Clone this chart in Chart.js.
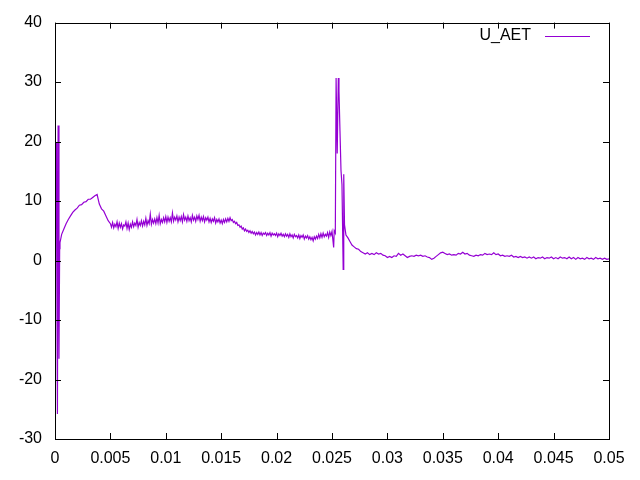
<!DOCTYPE html>
<html>
<head>
<meta charset="utf-8">
<script src="https://cdn.jsdelivr.net/npm/chart.js@4.4.1/dist/chart.umd.min.js"></script>
<style>
  html, body { margin: 0; padding: 0; background: #fff; }
  #wrap { width: 640px; height: 480px; }
</style>
</head>
<body>
<div id="wrap"><canvas id="chart" width="640" height="480"></canvas></div>
<script>
// U_AET trace (time in s, voltage)
const seriesLabel = "U_AET";

// start-up transient
const startT = [0, 0.00012, 0.00016, 0.00022, 0.00028, 0.00036, 0.00042, 0.00045];
const startU = [-1.0, 19.8, -1.0, -25.8, 22.7, -16.5, 2.0, 3.0];

// rise to the first hump
const rampT = [
    0.0006, 0.0008, 0.0010, 0.0012, 0.0014, 0.0016, 0.0018, 0.0020, 0.0022, 0.0024,
    0.0026, 0.0028, 0.0030, 0.0032, 0.0034, 0.0036, 0.0038, 0.0040, 0.0042, 0.0044,
    0.0046, 0.0048
];
const rampU = [
    4.4, 5.3, 6.2, 6.9, 7.5, 8.1, 8.5, 8.8, 9.3, 9.4,
    9.8, 9.9, 10.3, 10.3, 10.6, 10.9, 11.1, 9.5, 8.7, 8.3,
    7.5, 6.7
];

// noisy plateau and slow decay up to the switching event
const plateauT = [
    0.0050, 0.0051, 0.0052, 0.0053, 0.0054, 0.0055, 0.0056, 0.0057, 0.0058, 0.0059,
    0.0060, 0.0061, 0.0062, 0.0063, 0.0064, 0.0065, 0.0066, 0.0067, 0.0068, 0.0069,
    0.0070, 0.0071, 0.0072, 0.0073, 0.0074, 0.0075, 0.0076, 0.0077, 0.0078, 0.0079,
    0.0080, 0.0081, 0.0082, 0.0083, 0.0084, 0.0085, 0.0086, 0.0087, 0.0088, 0.0089,
    0.0090, 0.0091, 0.0092, 0.0093, 0.0094, 0.0095, 0.0096, 0.0097, 0.0098, 0.0099,
    0.0100, 0.0101, 0.0102, 0.0103, 0.0104, 0.0105, 0.0106, 0.0107, 0.0108, 0.0109,
    0.0110, 0.0111, 0.0112, 0.0113, 0.0114, 0.0115, 0.0116, 0.0117, 0.0118, 0.0119,
    0.0120, 0.0121, 0.0122, 0.0123, 0.0124, 0.0125, 0.0126, 0.0127, 0.0128, 0.0129,
    0.0130, 0.0131, 0.0132, 0.0133, 0.0134, 0.0135, 0.0136, 0.0137, 0.0138, 0.0139,
    0.0140, 0.0141, 0.0142, 0.0143, 0.0144, 0.0145, 0.0146, 0.0147, 0.0148, 0.0149,
    0.0150, 0.0151, 0.0152, 0.0153, 0.0154, 0.0155, 0.0156, 0.0157, 0.0158, 0.0159,
    0.0160, 0.0161, 0.0162, 0.0163, 0.0164, 0.0165, 0.0166, 0.0167, 0.0168, 0.0169,
    0.0170, 0.0171, 0.0172, 0.0173, 0.0174, 0.0175, 0.0176, 0.0177, 0.0178, 0.0179,
    0.0180, 0.0181, 0.0182, 0.0183, 0.0184, 0.0185, 0.0186, 0.0187, 0.0188, 0.0189,
    0.0190, 0.0191, 0.0192, 0.0193, 0.0194, 0.0195, 0.0196, 0.0197, 0.0198, 0.0199,
    0.0200, 0.0201, 0.0202, 0.0203, 0.0204, 0.0205, 0.0206, 0.0207, 0.0208, 0.0209,
    0.0210, 0.0211, 0.0212, 0.0213, 0.0214, 0.0215, 0.0216, 0.0217, 0.0218, 0.0219,
    0.0220, 0.0221, 0.0222, 0.0223, 0.0224, 0.0225, 0.0226, 0.0227, 0.0228, 0.0229,
    0.0230, 0.0231, 0.0232, 0.0233, 0.0234, 0.0235, 0.0236, 0.0237, 0.0238, 0.0239,
    0.0240, 0.0241, 0.0242, 0.0243, 0.0244, 0.0245, 0.0246, 0.0247, 0.0248, 0.0249,
    0.0250
];
const plateauU = [
    6.2, 5.6, 6.4, 5.5, 6.1, 5.7, 6.5, 5.4, 6.3, 5.6,
    6.2, 5.3, 6.0, 5.8, 6.5, 5.4, 6.3, 5.2, 6.1, 5.6,
    6.5, 5.7, 6.3, 5.9, 6.9, 5.6, 6.4, 5.9, 6.7, 5.8,
    6.6, 6.0, 7.1, 5.9, 6.7, 6.2, 7.8, 6.1, 6.9, 6.3,
    7.0, 6.2, 7.2, 6.3, 7.6, 6.2, 6.9, 6.4, 7.2, 6.5,
    7.4, 6.4, 7.3, 6.6, 7.2, 6.5, 8.0, 6.6, 7.3, 6.8,
    7.5, 6.5, 7.3, 6.7, 7.4, 6.5, 7.7, 6.8, 7.3, 6.6,
    7.5, 6.7, 7.2, 6.5, 7.6, 6.8, 7.3, 6.6, 7.5, 6.9,
    7.6, 6.6, 7.3, 6.7, 7.4, 6.5, 7.2, 6.8, 7.3, 6.5,
    7.1, 6.4, 7.0, 6.6, 7.2, 6.3, 6.9, 6.5, 7.0, 6.3,
    6.8, 6.2, 6.9, 6.4, 7.0, 6.5, 7.1, 6.6, 7.2, 6.7,
    6.9, 6.4, 6.6, 6.2, 6.4, 5.9, 6.0, 5.6, 5.8, 5.3,
    5.5, 5.0, 5.3, 4.9, 5.1, 4.7, 5.0, 4.6, 4.9, 4.5,
    4.8, 4.3, 4.7, 4.4, 4.8, 4.3, 4.7, 4.2, 4.6, 4.4,
    4.7, 4.2, 4.6, 4.3, 4.7, 4.1, 4.6, 4.3, 4.5, 4.2,
    4.6, 4.0, 4.5, 4.2, 4.6, 4.1, 4.4, 4.0, 4.5, 4.1,
    4.4, 3.9, 4.5, 4.0, 4.3, 3.8, 4.4, 4.0, 4.2, 3.8,
    4.3, 3.7, 4.2, 3.9, 4.3, 3.6, 4.1, 3.8, 4.2, 3.6,
    4.0, 3.5, 3.9, 3.3, 4.0, 3.6, 4.1, 3.7, 4.4, 3.8,
    4.5, 3.9, 4.6, 4.0, 4.4, 4.1, 4.7, 3.9, 4.8, 4.2,
    4.9
];

// switching spike around 25 ms
const spikeT = [0.02515, 0.0252, 0.0253, 0.02537, 0.02547, 0.02557, 0.02563, 0.02572,
    0.02581, 0.0259, 0.02601, 0.02606, 0.02613, 0.02626, 0.02644, 0.02662];
const spikeU = [2.2, 5.0, 4.6, 30.7, 18.0, 30.7, 28.5, 21.8,
    15.2, 12.8, -1.5, 14.5, 6.0, 4.3, 3.8, 3.2];

// tail after the spike
const tailT = [
    0.0268, 0.0270, 0.0272, 0.0274, 0.0276, 0.0278, 0.0280, 0.0282, 0.0284, 0.0286,
    0.0288, 0.0290, 0.0292, 0.0294, 0.0296, 0.0298, 0.0300, 0.0302, 0.0304, 0.0306,
    0.0308, 0.0310, 0.0312, 0.0314, 0.0316, 0.0318, 0.0320, 0.0322, 0.0324, 0.0326,
    0.0328, 0.0330, 0.0332, 0.0334, 0.0336, 0.0338, 0.0340, 0.0342, 0.0344, 0.0346,
    0.0348, 0.0350, 0.0352, 0.0354, 0.0356, 0.0358, 0.0360, 0.0362, 0.0364, 0.0366,
    0.0368, 0.0370, 0.0372, 0.0374, 0.0376, 0.0378, 0.0380, 0.0382, 0.0384, 0.0386,
    0.0388, 0.0390, 0.0392, 0.0394, 0.0396, 0.0398, 0.0400, 0.0402, 0.0404, 0.0406,
    0.0408, 0.0410, 0.0412, 0.0414, 0.0416, 0.0418, 0.0420, 0.0422, 0.0424, 0.0426,
    0.0428, 0.0430, 0.0432, 0.0434, 0.0436, 0.0438, 0.0440, 0.0442, 0.0444, 0.0446,
    0.0448, 0.0450, 0.0452, 0.0454, 0.0456, 0.0458, 0.0460, 0.0462, 0.0464, 0.0466,
    0.0468, 0.0470, 0.0472, 0.0474, 0.0476, 0.0478, 0.0480, 0.0482, 0.0484, 0.0486,
    0.0488, 0.0490, 0.0492, 0.0494, 0.0496, 0.0498, 0.0500
];
const tailU = [
    2.6, 2.3, 2.0, 1.9, 1.5, 1.3, 1.1, 1.3, 1.0, 1.2,
    1.0, 1.3, 1.1, 1.2, 0.9, 0.8, 0.5, 0.7, 0.5, 0.8,
    0.7, 1.2, 0.9, 1.1, 0.8, 0.5, 0.7, 0.8, 0.7, 0.9,
    0.8, 0.9, 0.7, 0.8, 0.6, 0.5, 0.2, 0.4, 0.7, 1.0,
    1.3, 1.4, 1.2, 1.0, 1.1, 0.9, 1.0, 0.9, 1.2, 1.1,
    1.4, 1.1, 1.2, 0.9, 0.8, 0.7, 0.9, 0.8, 1.0, 0.9,
    1.2, 1.0, 1.1, 1.0, 1.3, 1.0, 1.1, 0.8, 0.9, 0.7,
    0.8, 0.7, 0.9, 0.6, 0.7, 0.5, 0.7, 0.5, 0.6, 0.4,
    0.6, 0.4, 0.6, 0.3, 0.5, 0.4, 0.6, 0.3, 0.5, 0.4,
    0.6, 0.3, 0.5, 0.3, 0.6, 0.4, 0.5, 0.3, 0.6, 0.3,
    0.5, 0.2, 0.5, 0.3, 0.4, 0.2, 0.5, 0.3, 0.4, 0.2,
    0.5, 0.3, 0.4, 0.2, 0.4, 0.2, 0.3
];

const xTicks = [0, 0.005, 0.01, 0.015, 0.02, 0.025, 0.03, 0.035, 0.04, 0.045, 0.05];
const yTicks = [-30, -20, -10, 0, 10, 20, 30, 40];

const LINE_COLOR = "#9400d3";
const FONT = { family: "'Liberation Sans', Arial, sans-serif", size: 16 };

function buildPoints() {
    const pts = [];
    [[startT, startU], [rampT, rampU], [plateauT, plateauU], [spikeT, spikeU], [tailT, tailU]]
        .forEach(([ts, us]) => {
            ts.forEach((t, i) => pts.push({ x: t, y: us[i] }));
        });
    return pts;
}

// gnuplot style: closed box, inward ticks on all four sides, key at top right
const gnuFrame = {
    id: "gnuFrame",
    afterDraw(chart) {
        const { ctx, chartArea: a, scales } = chart;
        const tl = 6;
        ctx.save();
        ctx.strokeStyle = "#000";
        ctx.lineWidth = 1;
        ctx.beginPath();
        xTicks.forEach((v) => {
            const px = Math.round(scales.x.getPixelForValue(v)) + 0.5;
            ctx.moveTo(px, a.bottom); ctx.lineTo(px, a.bottom - tl);
            ctx.moveTo(px, a.top); ctx.lineTo(px, a.top + tl);
        });
        yTicks.forEach((v) => {
            const py = Math.round(scales.y.getPixelForValue(v)) + 0.5;
            ctx.moveTo(a.left, py); ctx.lineTo(a.left + tl, py);
            ctx.moveTo(a.right, py); ctx.lineTo(a.right - tl, py);
        });
        ctx.stroke();
        ctx.strokeRect(Math.round(a.left) + 0.5, Math.round(a.top) + 0.5,
            Math.round(a.right - a.left), Math.round(a.bottom - a.top));

        // key
        const ky = a.top + 13;
        ctx.font = FONT.size + "px " + FONT.family;
        ctx.fillStyle = "#000";
        ctx.textAlign = "right";
        ctx.textBaseline = "middle";
        ctx.fillText(seriesLabel, a.right - 78, ky);
        ctx.strokeStyle = LINE_COLOR;
        ctx.beginPath();
        ctx.moveTo(a.right - 64, Math.round(ky) + 0.5);
        ctx.lineTo(a.right - 19, Math.round(ky) + 0.5);
        ctx.stroke();
        ctx.restore();
    }
};

new Chart(document.getElementById("chart"), {
    type: "line",
    data: {
        datasets: [{
            label: seriesLabel,
            data: buildPoints(),
            borderColor: LINE_COLOR,
            borderWidth: 1.2,
            pointRadius: 0,
            tension: 0,
            fill: false,
        }],
    },
    options: {
        responsive: false,
        animation: false,
        devicePixelRatio: 1,
        layout: { padding: { left: 0, right: 31, top: 19, bottom: 0 } },
        plugins: { legend: { display: false }, tooltip: { enabled: false } },
        scales: {
            x: {
                type: "linear",
                min: 0,
                max: 0.05,
                afterFit: (s) => { s.height = 41; },
                afterBuildTicks: (s) => { s.ticks = xTicks.map((v) => ({ value: v })); },
                grid: { display: false, drawTicks: false },
                border: { display: false },
                ticks: {
                    color: "#000",
                    font: FONT,
                    padding: 10,
                    maxRotation: 0,
                    autoSkip: false,
                    callback: (v) => String(parseFloat(Number(v).toFixed(4))),
                },
            },
            y: {
                min: -30,
                max: 40,
                afterFit: (s) => { s.width = 55; },
                afterBuildTicks: (s) => { s.ticks = yTicks.map((v) => ({ value: v })); },
                grid: { display: false, drawTicks: false },
                border: { display: false },
                ticks: {
                    color: "#000",
                    font: FONT,
                    padding: 13,
                    autoSkip: false,
                    callback: (v) => String(v),
                },
            },
        },
    },
    plugins: [gnuFrame],
});
</script>
</body>
</html>
